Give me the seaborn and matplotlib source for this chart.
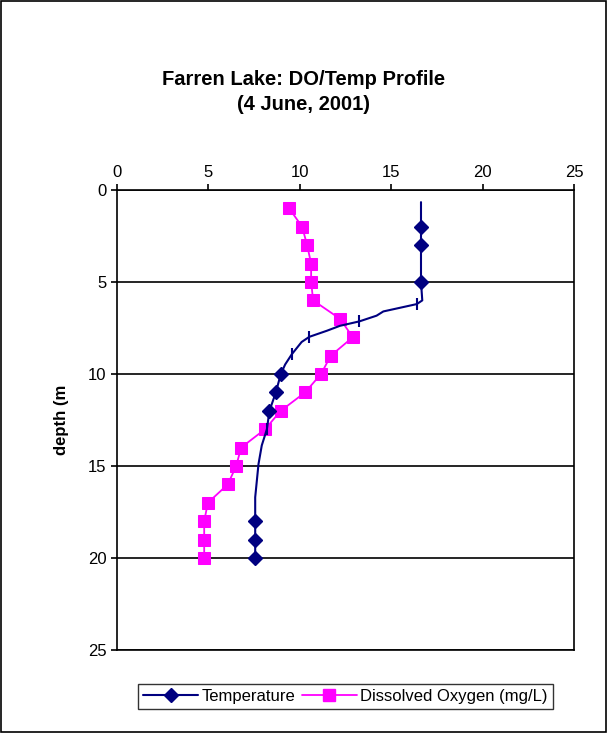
import numpy as np
import matplotlib
matplotlib.use("Agg")
import matplotlib.pyplot as plt
import seaborn as sns
from matplotlib.patches import Rectangle
from matplotlib.lines import Line2D

# temperature trace (dense), diamonds only at some readings
temp_depth = [0.66, 2, 3, 5, 6.0, 6.2, 6.6, 6.83, 7.14, 7.38, 7.65, 7.98, 8.26, 8.93, 9.48,
              10, 11, 12, 13, 13.88, 14.9, 16.7, 18, 19, 20]
temp_val = [16.63, 16.63, 16.63, 16.63, 16.7, 16.4, 14.57, 14.2, 13.26, 12.2, 11.48, 10.52, 10.1,
            9.56, 9.2, 8.96, 8.69, 8.34, 8.2, 7.92, 7.74, 7.56, 7.56, 7.56, 7.56]
diamond_idx = [1, 2, 3, 15, 16, 17, 22, 23, 24]
tick_idx = [5, 8, 11, 13, 18]

do_depth = [1, 2, 3, 4, 5, 6, 7, 8, 9, 10, 11, 12, 13, 14, 15, 16, 17, 18, 19, 20]
do_val = [9.42, 10.13, 10.4, 10.62, 10.62, 10.73, 12.2, 12.9, 11.7, 11.16, 10.29, 8.96, 8.1,
          6.79, 6.52, 6.06, 4.97, 4.77, 4.77, 4.77]

navy = '#000080'
pink = '#FF00FF'

sns.set_style("white")
plt.rcParams['font.family'] = ['Liberation Sans', 'DejaVu Sans']
plt.rcParams['text.color'] = 'black'
plt.rcParams['axes.labelcolor'] = 'black'

fig = plt.figure(figsize=(6.07, 7.33), dpi=100)
fig.patches.append(Rectangle((0.002, 0.002), 0.996, 0.996, transform=fig.transFigure,
                             fill=False, edgecolor='black', linewidth=1.2))
ax = fig.add_axes([117 / 607, 1 - 650 / 733, 457 / 607, 460 / 733])

sns.lineplot(x=do_val, y=do_depth, sort=False, orient='y', ax=ax, color=pink, linewidth=1.3,
             marker='s', markersize=9, markeredgecolor=pink, legend=False)
sns.lineplot(x=temp_val, y=temp_depth, sort=False, orient='y', ax=ax, color=navy,
             linewidth=1.5, legend=False)
ax.plot([temp_val[i] for i in diamond_idx], [temp_depth[i] for i in diamond_idx],
        linestyle='none', marker='D', markersize=7, color=navy)
ax.plot([temp_val[i] for i in tick_idx], [temp_depth[i] for i in tick_idx], linestyle='none',
        marker='|', markersize=9, markeredgewidth=1.5, color=navy)

ax.set_xlim(0, 25)
ax.set_ylim(25, 0)
ax.set_xticks(range(0, 26, 5))
ax.set_yticks(range(0, 26, 5))
ax.xaxis.tick_top()
ax.tick_params(axis='both', labelsize=12, direction='out', length=4, width=1.2, colors='black',
               left=True, top=True, bottom=False)
for s in ax.spines.values():
    s.set_color('black')
    s.set_linewidth(1.2)
ax.grid(axis='y', color='black', linewidth=1.2)
ax.set_axisbelow(True)
ax.set_xlabel('')
ax.set_ylabel('depth (m', fontsize=12, fontweight='bold', labelpad=14)

fig.text(0.5, 1 - 92 / 733, 'Farren Lake: DO/Temp Profile\n(4 June, 2001)', ha='center',
         va='center', fontsize=14.5, fontweight='bold', linespacing=1.45, color='black')

handles = [Line2D([], [], color=navy, marker='D', markersize=7, linewidth=1.5),
           Line2D([], [], color=pink, marker='s', markersize=9, linewidth=1.3)]
ax.legend(handles, ['Temperature', 'Dissolved Oxygen (mg/L)'], loc='center',
          bbox_to_anchor=(0.5, -0.1), ncol=2, fontsize=12, frameon=True, fancybox=False,
          edgecolor='black', handlelength=3.3, columnspacing=0.4, handletextpad=0.2,
          borderpad=0.3, labelcolor='black')

fig.savefig('out.png', dpi=100)
